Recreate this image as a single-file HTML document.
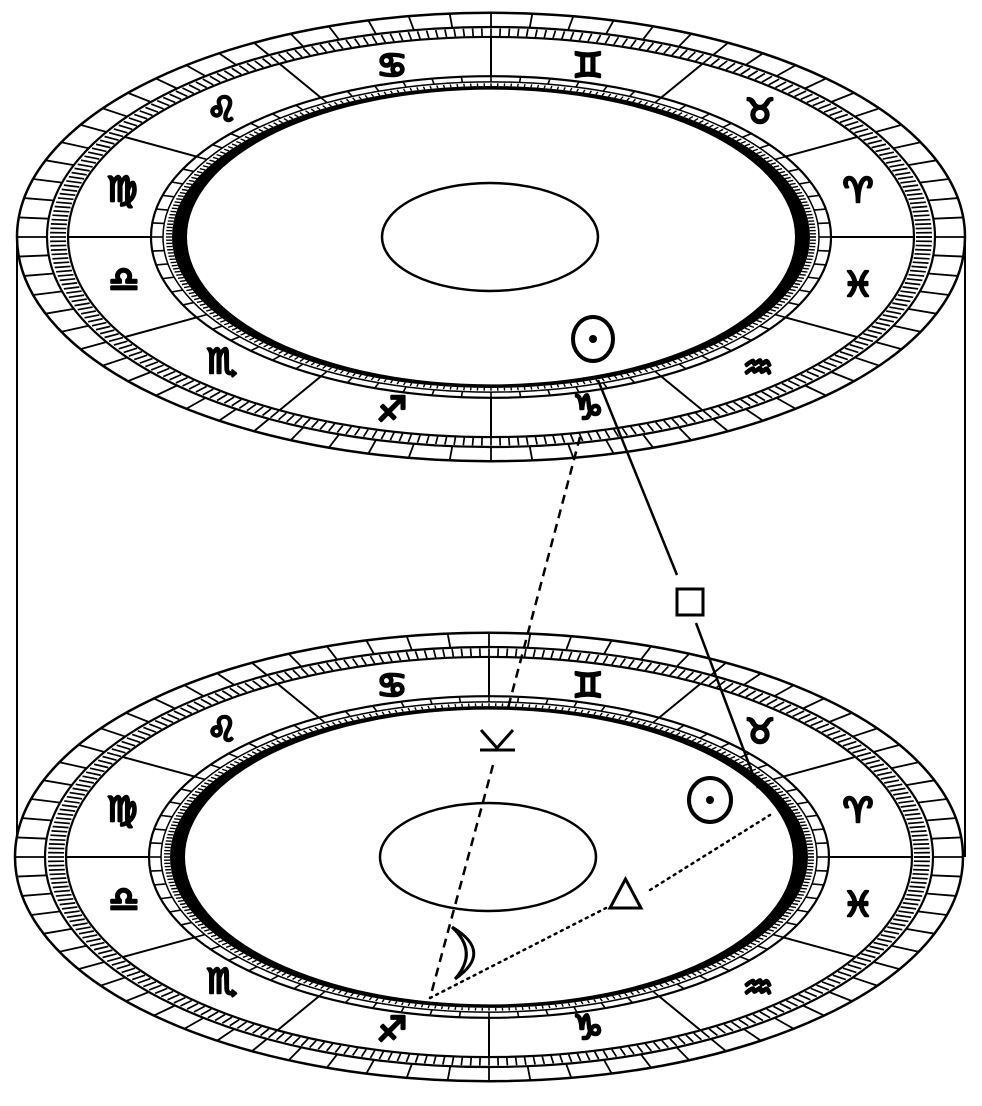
<!DOCTYPE html>
<html><head><meta charset="utf-8">
<style>
html,body{margin:0;padding:0;background:#fff;}
svg{display:block;}
.z{font-family:"DejaVu Sans","Liberation Sans",sans-serif;font-weight:bold;font-size:34px;fill:#000;stroke:#000;stroke-width:2.6;stroke-linejoin:round;text-anchor:middle;dominant-baseline:central;}
</style></head>
<body>
<svg id="s" width="982" height="1106" viewBox="0 0 982 1106" xmlns="http://www.w3.org/2000/svg">
<rect width="982" height="1106" fill="#fff"/>
<line x1="17" y1="237" x2="17" y2="857" stroke="#000" stroke-width="2"/>
<line x1="965" y1="237" x2="965" y2="857" stroke="#000" stroke-width="2"/>
<g id="w1"></g>
<g id="w2"></g>
<g id="labels1">
<text class="z" x="858" y="191">♈</text>
<text class="z" x="760" y="112">♉</text>
<text class="z" x="588" y="66">♊</text>
<text class="z" x="392" y="66">♋</text>
<text class="z" x="222" y="110">♌</text>
<text class="z" x="122" y="190">♍</text>
<text class="z" x="124" y="280">♎</text>
<text class="z" x="222" y="362">♏</text>
<text class="z" x="392" y="410">♐</text>
<text class="z" x="588" y="408">♑</text>
<text class="z" x="758" y="368">♒</text>
<text class="z" x="858" y="285">♓</text>
</g>
<g id="labels2">
<text class="z" x="858" y="811">♈</text>
<text class="z" x="760" y="732">♉</text>
<text class="z" x="588" y="686">♊</text>
<text class="z" x="392" y="686">♋</text>
<text class="z" x="222" y="730">♌</text>
<text class="z" x="122" y="810">♍</text>
<text class="z" x="124" y="900">♎</text>
<text class="z" x="222" y="982">♏</text>
<text class="z" x="392" y="1030">♐</text>
<text class="z" x="588" y="1028">♑</text>
<text class="z" x="758" y="988">♒</text>
<text class="z" x="858" y="905">♓</text>
</g>
<g stroke="#000" fill="none">
<line x1="598" y1="380" x2="677" y2="575" stroke-width="2.5"/>
<rect x="677" y="589" width="26" height="26" stroke-width="3" fill="#fff"/>
<line x1="696" y1="623" x2="758" y2="788" stroke-width="2.5"/>
<line x1="580" y1="437" x2="508" y2="708" stroke-width="2.5" stroke-dasharray="9,6"/>
<path d="M481,730 L497,748 L513,730 M480,750 L515,750" stroke-width="3"/>
<line x1="493" y1="765" x2="430" y2="998" stroke-width="2.5" stroke-dasharray="9,6"/>
<line x1="430" y1="998" x2="606" y2="908" stroke-width="2.5" stroke-dasharray="2,5" stroke-linecap="round"/>
<line x1="650" y1="890" x2="770" y2="815" stroke-width="2.5" stroke-dasharray="2,5" stroke-linecap="round"/>
<polygon points="610,908 641,908 625.5,879" stroke-width="3" fill="#fff"/>
<ellipse cx="593" cy="339" rx="20" ry="22" stroke-width="4"/>
<ellipse cx="710" cy="800" rx="21" ry="22" stroke-width="4"/>
<path d="M452,927 Q494,952 455,979 M452,927 Q479,952 455,979" stroke-width="3"/>
</g>
<circle cx="593" cy="339" r="4" fill="#000"/>
<circle cx="710" cy="800" r="4" fill="#000"/>
</svg>
<script>
(function(){
var NS="http://www.w3.org/2000/svg";
function el(g,n,a){var e=document.createElementNS(NS,n);for(var k in a)e.setAttribute(k,a[k]);g.appendChild(e);return e;}
function wheel(id,cx,cy){
  var g=document.getElementById(id),K=0.473;
  function P(r,a){a=a*Math.PI/180;return [cx+r*Math.cos(a),cy-r*K*Math.sin(a)];}
  function ell(r,sw,fill){el(g,"ellipse",{cx:cx,cy:cy,rx:r,ry:r*K,fill:fill||"none",stroke:"#000","stroke-width":sw});}
  function rad(r1,r2,a,sw){var p=P(r1,a),q=P(r2,a);el(g,"line",{x1:p[0],y1:p[1],x2:q[0],y2:q[1],stroke:"#000","stroke-width":sw});}
  ell(474,2.5,"#fff");
  var a;
  for(a=0;a<360;a+=5) rad(444,474,a,1.8);
  ell(444,2.2);
  for(a=0;a<360;a+=1.2) rad(425,441,a,1.7);
  ell(423,2.2);
  for(a=0;a<360;a+=30) rad(340,423,a,2);
  ell(340,2.2);
  for(a=0;a<360;a+=5) rad(328,340,a,1.6);
  ell(328,1.5);
  for(a=0;a<360;a+=1.2) rad(319,325,a,1.4);
  var ro=319,rox=319*K,ri=304,riy=319*K-3.5;
  el(g,"path",{d:"M"+(cx-ro)+","+cy+" a"+ro+","+rox+" 0 1,0 "+(2*ro)+",0 a"+ro+","+rox+" 0 1,0 "+(-2*ro)+",0 Z M"+(cx-ri)+","+cy+" a"+ri+","+riy+" 0 1,1 "+(2*ri)+",0 a"+ri+","+riy+" 0 1,1 "+(-2*ri)+",0 Z",fill:"#000","fill-rule":"evenodd"});
  el(g,"ellipse",{cx:cx-1,cy:cy,rx:108,ry:54,fill:"none",stroke:"#000","stroke-width":2.5});
}
wheel("w1",491,237);
wheel("w2",489,857);
})();
</script>
</body></html>
